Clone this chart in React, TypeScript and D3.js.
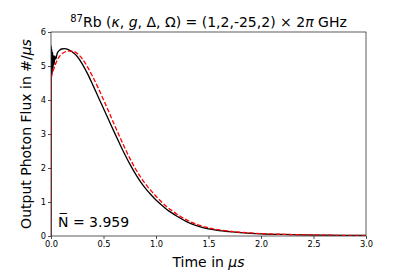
import React, { useEffect, useRef } from "react";
import * as d3 from "d3";

// simulated photon flux (black) and analytic model (red dashed)
const simTime = [
  0, 0.001, 0.004, 0.008, 0.012, 0.016, 0.02, 0.025, 0.03, 0.036, 0.045, 0.06,
  0.08, 0.1, 0.13, 0.16, 0.2, 0.25, 0.3, 0.35, 0.4, 0.45, 0.5, 0.55, 0.6, 0.65,
  0.7, 0.75, 0.8, 0.85, 0.9, 0.95, 1.0, 1.05, 1.1, 1.15, 1.2, 1.3, 1.4, 1.5,
  1.6, 1.7, 1.8, 1.9, 2.0, 2.2, 2.4, 2.6, 2.8, 3.0,
];
const simFlux = [
  0, 5.6, 4.7, 5.5, 4.8, 5.4, 4.95, 5.3, 5.05, 5.3, 5.2, 5.38,
  5.46, 5.5, 5.51, 5.49, 5.42, 5.28, 5.05, 4.76, 4.43, 4.09, 3.75, 3.41, 3.07, 2.74,
  2.42, 2.12, 1.85, 1.61, 1.4, 1.22, 1.06, 0.92, 0.79, 0.68, 0.58, 0.41, 0.29, 0.21,
  0.16, 0.13, 0.1, 0.08, 0.065, 0.045, 0.032, 0.024, 0.018, 0.014,
];

const modelTime = [
  0, 0.001, 0.02, 0.04, 0.06, 0.085, 0.12, 0.16, 0.2, 0.25, 0.3, 0.35, 0.4,
  0.45, 0.5, 0.55, 0.6, 0.65, 0.7, 0.75, 0.8, 0.85, 0.9, 0.95, 1.0,
  1.05, 1.1, 1.15, 1.2, 1.3, 1.4, 1.5, 1.6, 1.7, 1.8, 1.9, 2.0, 2.2, 2.4, 2.6,
  2.8, 3.0,
];
const modelFlux = [
  0, 4.6, 4.85, 5.03, 5.18, 5.3, 5.39, 5.44, 5.44, 5.37, 5.2, 4.96, 4.67,
  4.35, 4.01, 3.66, 3.3, 2.95, 2.61, 2.29, 2.0, 1.75, 1.53, 1.34, 1.17,
  1.01, 0.87, 0.75, 0.64, 0.46, 0.33, 0.24, 0.18, 0.14, 0.11, 0.09, 0.07, 0.05, 0.035, 0.025,
  0.018, 0.013,
];

const xTicks = [0, 0.5, 1.0, 1.5, 2.0, 2.5, 3.0];
const yTicks = [0, 1, 2, 3, 4, 5, 6];
const meanPhotons = "3.959";

const W = 407;
const H = 271;
const margin = { top: 32, right: 41, bottom: 35, left: 51 };
const font = "DejaVu Sans, sans-serif";

const App = () => {
  const ref = useRef<SVGSVGElement>(null);

  useEffect(() => {
    const svg = d3.select(ref.current);
    svg.selectAll("*").remove();

    const x = d3.scaleLinear().domain([0, 3]).range([margin.left, W - margin.right]);
    const y = d3.scaleLinear().domain([0, 6]).range([H - margin.bottom, margin.top]);

    const line = d3
      .line<[number, number]>()
      .x(d => x(d[0]))
      .y(d => y(d[1]))
      .curve(d3.curveMonotoneX);

    const sim = simTime.map((t, i) => [t, simFlux[i]] as [number, number]);
    const model = modelTime.map((t, i) => [t, modelFlux[i]] as [number, number]);

    const plot = svg.append("g");
    plot.append("defs").append("clipPath").attr("id", "clip")
      .append("rect")
      .attr("x", x(0)).attr("y", y(6))
      .attr("width", x(3) - x(0)).attr("height", y(0) - y(6));

    const lines = plot.append("g").attr("clip-path", "url(#clip)");
    lines.append("path")
      .datum(sim)
      .attr("fill", "none")
      .attr("stroke", "#000")
      .attr("stroke-width", 1.3)
      .attr("d", line);
    lines.append("path")
      .datum(model)
      .attr("fill", "none")
      .attr("stroke", "#ff0000")
      .attr("stroke-width", 1.3)
      .attr("stroke-dasharray", "4.6,2")
      .attr("d", line);

    // axes
    const xAxis = svg.append("g")
      .attr("transform", `translate(0,${y(0)})`)
      .call(d3.axisBottom(x).tickValues(xTicks).tickFormat(d3.format(".1f")).tickSize(3).tickPadding(2));
    const yAxis = svg.append("g")
      .attr("transform", `translate(${x(0)},0)`)
      .call(d3.axisLeft(y).tickValues(yTicks).tickFormat(d3.format("d")).tickSize(3).tickPadding(2));

    [xAxis, yAxis].forEach(g => {
      g.select(".domain").remove();
      g.selectAll("line").attr("stroke", "#222").attr("stroke-width", 0.8);
      g.selectAll("text")
        .attr("font-family", font)
        .attr("font-size", 8.3)
        .attr("fill", "#000");
    });

    // frame
    svg.append("rect")
      .attr("x", x(0)).attr("y", y(6))
      .attr("width", x(3) - x(0)).attr("height", y(0) - y(6))
      .attr("fill", "none")
      .attr("stroke", "#333")
      .attr("stroke-width", 0.8);

    // title
    const title = svg.append("text")
      .attr("x", (x(0) + x(3)) / 2)
      .attr("y", 26.5)
      .attr("text-anchor", "middle")
      .attr("font-family", font)
      .attr("font-size", 14)
      .attr("fill", "#000");
    title.append("tspan").attr("font-size", 10).attr("dy", -5).text("87");
    title.append("tspan").attr("dy", 5).text("Rb (");
    title.append("tspan").attr("font-style", "italic").text("κ");
    title.append("tspan").text(", ");
    title.append("tspan").attr("font-style", "italic").text("g");
    title.append("tspan").text(", Δ, Ω) = (1,2,-25,2) × 2");
    title.append("tspan").attr("font-style", "italic").text("π");
    title.append("tspan").text(" GHz");

    // axis labels
    const xl = svg.append("text")
      .attr("x", (x(0) + x(3)) / 2)
      .attr("y", 266.5)
      .attr("text-anchor", "middle")
      .attr("font-family", font)
      .attr("font-size", 14)
      .attr("fill", "#000");
    xl.append("tspan").text("Time in ");
    xl.append("tspan").attr("font-style", "italic").text("μs");

    const yl = svg.append("text")
      .attr("transform", `translate(30.5,${(y(0) + y(6)) / 2}) rotate(-90)`)
      .attr("text-anchor", "middle")
      .attr("font-family", font)
      .attr("font-size", 14)
      .attr("fill", "#000");
    yl.append("tspan").text("Output Photon Flux in #/");
    yl.append("tspan").attr("font-style", "italic").text("μs");

    // mean photon number
    svg.append("text")
      .attr("x", 58)
      .attr("y", 226.5)
      .attr("font-family", font)
      .attr("font-size", 14)
      .attr("fill", "#000")
      .text(`N\u0305 = ${meanPhotons}`);
  }, []);

  return (
    <svg
      ref={ref}
      width={W}
      height={H}
      style={{ position: "absolute", left: 0, top: 0, background: "#fff" }}
    ></svg>
  );
};

export default App;
